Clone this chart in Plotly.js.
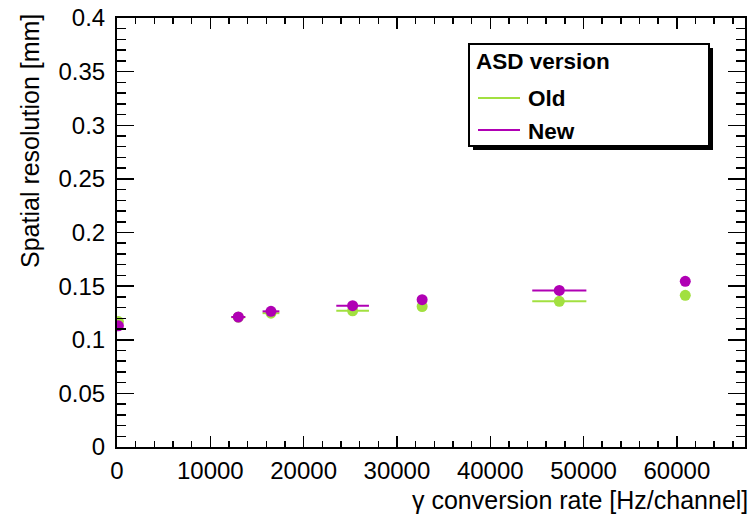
<!DOCTYPE html>
<html><head><meta charset="utf-8">
<script src="https://cdn.plot.ly/plotly-3.0.1.min.js"></script>
<style>body{margin:0;background:#fff}</style>
</head><body><div id="chart" style="width:753px;height:519px"></div>
<script>
const rate = [150, 13000, 16500, 25250, 32700, 47400, 60900];
const rateErr = [200, 750, 900, 1750, 400, 2900, 300];
const resOld = [0.117, 0.121, 0.1248, 0.127, 0.131, 0.1358, 0.1414];
const resNew = [0.113, 0.1212, 0.1265, 0.1318, 0.1374, 0.146, 0.1545];
const seriesNames = ['Old', 'New'];
const legendTitle = 'ASD version';
const xTitle = 'γ conversion rate [Hz/channel]';
const yTitle = 'Spatial resolution [mm]';

const GREEN = '#a2e040', MAGENTA = '#b000b4';
const W = 753, H = 519, L = 117, R = 8, T = 18, B = 72;
const PW = W - L - R, PH = H - T - B;
const px = v => (v - L) / PW;
const py = v => (H - B - v) / PH;
const FONT = 'Liberation Sans, Arial, Helvetica, sans-serif';

function trace(y, name, color) {
  return {
    x: rate, y: y, name: name, type: 'scatter', mode: 'markers',
    marker: {color: color, size: 11, line: {width: 0}},
    error_x: {type: 'data', array: rateErr, width: 0, thickness: 2, color: color},
    showlegend: false, hoverinfo: 'skip'
  };
}

const data = [trace(resOld, seriesNames[0], GREEN), trace(resNew, seriesNames[1], MAGENTA)];

const axisCommon = {
  showline: true, linecolor: 'black', linewidth: 2, mirror: 'ticks',
  ticks: 'inside', tickcolor: 'black', tickwidth: 1.5,
  showgrid: false, zeroline: false,
  tickfont: {family: FONT, size: 24, color: 'black'}
};

const layout = {
  width: W, height: H,
  margin: {l: L, r: R, t: T, b: B, pad: 0},
  paper_bgcolor: 'white', plot_bgcolor: 'white',
  showlegend: false,
  xaxis: Object.assign({}, axisCommon, {
    range: [0, 67300], dtick: 10000, tick0: 0, ticklen: 11, tickformat: 'd',
    minor: {dtick: 2000, ticklen: 6, ticks: 'inside', tickcolor: 'black', tickwidth: 1.5, showgrid: false},
    ticklabelstandoff: 1
  }),
  yaxis: Object.assign({}, axisCommon, {
    range: [0, 0.4], dtick: 0.05, tick0: 0, ticklen: 17,
    minor: {dtick: 0.01, ticklen: 9, ticks: 'inside', tickcolor: 'black', tickwidth: 1.5, showgrid: false},
    ticklabelstandoff: 5
  }),
  shapes: [
    {type: 'rect', xref: 'paper', yref: 'paper', x0: px(473), x1: px(713), y0: py(150), y1: py(48),
     fillcolor: 'black', line: {width: 0}},
    {type: 'rect', xref: 'paper', yref: 'paper', x0: px(469), x1: px(709), y0: py(146), y1: py(44),
     fillcolor: 'white', line: {color: 'black', width: 2}},
    {type: 'line', xref: 'paper', yref: 'paper', x0: px(478), x1: px(520), y0: py(98), y1: py(98),
     line: {color: GREEN, width: 2}},
    {type: 'line', xref: 'paper', yref: 'paper', x0: px(478), x1: px(520), y0: py(130), y1: py(130),
     line: {color: MAGENTA, width: 2}}
  ],
  annotations: [
    {xref: 'paper', yref: 'paper', x: px(474), y: py(61), xanchor: 'left', yanchor: 'middle',
     text: '<b>' + legendTitle + '</b>', showarrow: false, font: {family: FONT, size: 22.5, color: 'black'}},
    {xref: 'paper', yref: 'paper', x: px(526), y: py(98), xanchor: 'left', yanchor: 'middle',
     text: '<b>' + seriesNames[0] + '</b>', showarrow: false, font: {family: FONT, size: 22.5, color: 'black'}},
    {xref: 'paper', yref: 'paper', x: px(526), y: py(131), xanchor: 'left', yanchor: 'middle',
     text: '<b>' + seriesNames[1] + '</b>', showarrow: false, font: {family: FONT, size: 22.5, color: 'black'}},
    {xref: 'paper', yref: 'paper', x: px(750), y: py(500), xanchor: 'right', yanchor: 'middle',
     text: xTitle, showarrow: false, font: {family: FONT, size: 25, color: 'black'}},
    {xref: 'paper', yref: 'paper', x: px(30), y: py(12), xanchor: 'center', yanchor: 'top', textangle: -90,
     text: yTitle, showarrow: false, font: {family: FONT, size: 25, color: 'black'}}
  ]
};

Plotly.newPlot('chart', data, layout, {staticPlot: true, displayModeBar: false});
</script></body></html>
